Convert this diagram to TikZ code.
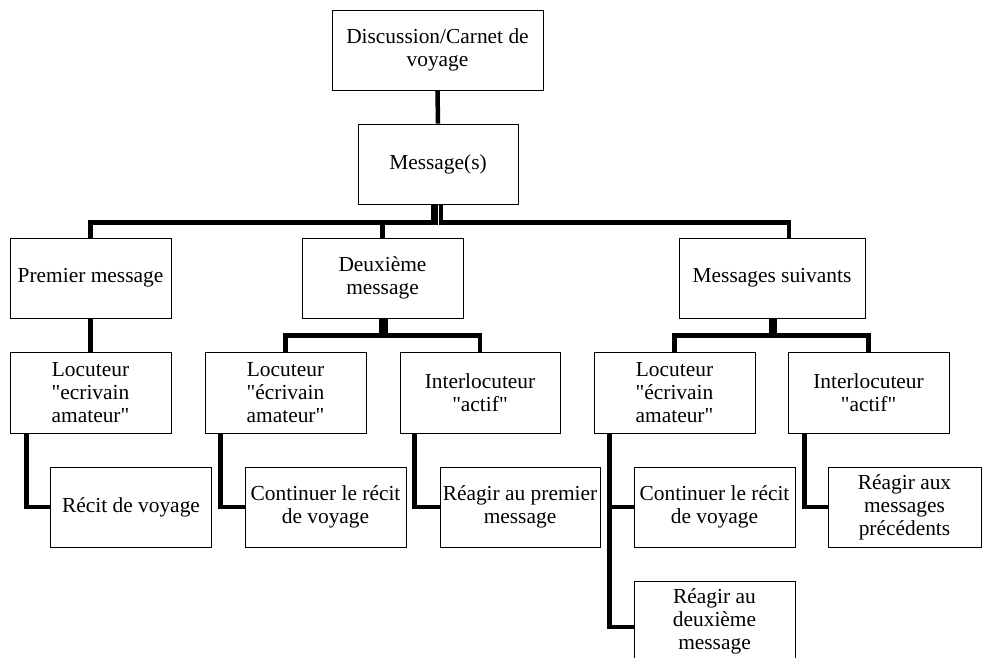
\documentclass[tikz,border=0pt]{standalone}
\usepackage{fontspec}
\setmainfont{Liberation Serif}
\usetikzlibrary{calc,backgrounds}
\newcommand{\dq}{\textquotedbl}
\begin{document}
\begin{tikzpicture}[x=1pt,y=-1pt,
  box/.style={draw=black,line width=0.8pt,fill=white,inner sep=0pt,align=center,
    font=\fontsize{21.4}{23}\selectfont,minimum height=80pt,minimum width=161pt},
  link/.style={draw=black,line width=4.5pt,line join=miter}]
\useasboundingbox (0,0) rectangle (982,657);
\begin{scope}
\clip (0,0) rectangle (982,657);
\node[box,minimum width=211pt] (top) at (437.5,50) {Discussion/Carnet de\\voyage};
\node[box,minimum width=160pt] (msg) at (438,164) {Message(s)};
\node[box] (prem) at (90.5,278) {Premier message};
\node[box] (deux) at (382.5,278) {Deuxième\\message};
\node[box,minimum width=186pt] (suiv) at (772,278) {Messages suivants};
\node[box,minimum height=81pt] (loc1) at (90.5,392.5) {Locuteur\\\dq ecrivain\\amateur\dq};
\node[box,minimum height=81pt] (loc2) at (285.5,392.5) {Locuteur\\\dq écrivain\\amateur\dq};
\node[box,minimum height=81pt,minimum width=160pt] (int2) at (480,392.5) {Interlocuteur\\\dq actif\dq};
\node[box,minimum height=81pt] (loc3) at (674.5,392.5) {Locuteur\\\dq écrivain\\amateur\dq};
\node[box,minimum height=81pt] (int3) at (868.5,392.5) {Interlocuteur\\\dq actif\dq};
\node[box] (recit) at (131,507) {Récit de voyage};
\node[box] (cont1) at (325.5,507) {Continuer le récit\\de voyage};
\node[box,minimum width=160pt] (reag1) at (520,507) {Réagir au premier\\message};
\node[box] (cont2) at (714.5,507) {Continuer le récit\\de voyage};
\node[box,minimum width=153pt] (reag2) at (904.5,507) {Réagir aux\\messages\\précédents};
\node[box] (reag3) at (714.5,621) {Réagir au\\deuxième\\message};
\end{scope}
\begin{scope}[on background layer]
\fill[white] (0,0) rectangle (982,657);
\draw[link] (top.south) -- (msg.north);
\draw[link] ($(msg.south)+(-5,0)$) -- ++(0,18) -| (prem.north);
\draw[link] ($(msg.south)+(-2,0)$) -- ++(0,18) -| (deux.north);
\draw[link] ($(msg.south)+(3,0)$) -- ++(0,18) -| ($(suiv.north)+(17,0)$);
\draw[link] (prem.south) -- (loc1.north);
\draw[link] ($(deux.south)+(-1,0)$) -- ++(0,17) -| (loc2.north);
\draw[link] ($(deux.south)+(3,0)$) -- ++(0,17) -| (int2.north);
\draw[link] ($(suiv.south)+(-1,0)$) -- ++(0,17) -| (loc3.north);
\draw[link] ($(suiv.south)+(3,0)$) -- ++(0,17) -| (int3.north);
\draw[link] ($(loc1.south west)+(17,0)$) |- (recit.west);
\draw[link] ($(loc2.south west)+(16,0)$) |- (cont1.west);
\draw[link] ($(int2.south west)+(15,0)$) |- (reag1.west);
\draw[link] ($(loc3.south west)+(16,0)$) |- (cont2.west);
\draw[link] ($(loc3.south west)+(16,0)$) |- ($(reag3.west)+(0,6)$);
\draw[link] ($(int3.south west)+(17,0)$) |- (reag2.west);
\end{scope}
\end{tikzpicture}
\end{document}
